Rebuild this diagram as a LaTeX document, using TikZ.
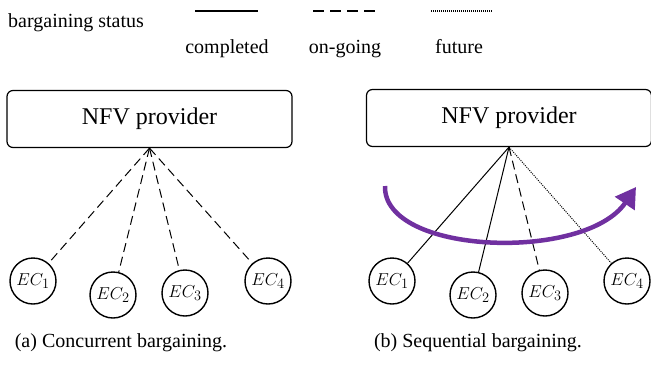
\documentclass[tikz,border=0pt]{standalone}
\usepackage{fontspec}
\setmainfont{Liberation Serif}
\usetikzlibrary{arrows.meta}
\definecolor{arcpurple}{HTML}{7030A0}
\tikzset{
  provbox/.style={draw, line width=1.2pt, rounded corners=6pt, minimum width=285pt, minimum height=57pt, inner sep=0pt, font=\fontsize{24}{26}\selectfont},
  ecnode/.style={draw, circle, line width=1.4pt, minimum size=46pt, inner sep=0pt, font=\fontsize{19}{21}\selectfont},
  lbl/.style={font=\fontsize{20}{22}\selectfont, inner sep=0pt},
  conn/.style={line width=1pt},
  ongoing/.style={conn, dash pattern=on 9pt off 5pt},
  fut/.style={conn, dash pattern=on 1pt off 1.2pt},
}
\begin{document}
\begin{tikzpicture}[x=1pt,y=-1pt]
\useasboundingbox (0,0) rectangle (651,376);
% legend
\node[lbl, anchor=west] (lgtitle) at (8,23) {bargaining status};
\coordinate (s1) at (195,11); \coordinate (s2) at (258,11);
\coordinate (d1) at (313,11); \coordinate (d2) at (375,11);
\coordinate (f1) at (431,11); \coordinate (f2) at (493,11);
\draw[line width=1.3pt] (s1) -- (s2);
\draw[line width=1.3pt, dash pattern=on 11pt off 6pt] (d1) -- (d2);
\draw[line width=1.2pt, dash pattern=on 1pt off 1pt] (f1) -- (f2);
\node[lbl, anchor=base] (lgc) at (227,53) {completed};
\node[lbl, anchor=base] (lgo) at (345,53) {on-going};
\node[lbl, anchor=base] (lgf) at (459,53) {future};
% left panel
\node[provbox] (nfvA) at (149.5,119) {NFV provider};
\node[ecnode] (a1) at (33,281) {$EC_1$};
\node[ecnode] (a2) at (113,295) {$EC_2$};
\node[ecnode] (a3) at (185,293) {$EC_3$};
\node[ecnode] (a4) at (268,281) {$EC_4$};
\foreach \i in {1,2,3,4} \draw[ongoing] (nfvA.south) -- (a\i);
\node[lbl] (capA) at (121,343) {(a) Concurrent bargaining.};
% right panel
\node[provbox] (nfvB) at (509,118) {NFV provider};
\node[ecnode] (b1) at (392,281) {$EC_1$};
\node[ecnode] (b2) at (473,295) {$EC_2$};
\node[ecnode] (b3) at (545,293) {$EC_3$};
\node[ecnode] (b4) at (627,281) {$EC_4$};
\draw[conn] (nfvB.south) -- (b1);
\draw[conn] (nfvB.south) -- (b2);
\draw[ongoing] (nfvB.south) -- (b3);
\draw[fut] (nfvB.south) -- (b4);
\coordinate (arcS) at (385,186);
\coordinate (arcE) at (636,187);
\draw[arcpurple, line width=4.5pt, -{Triangle[length=20pt,width=23pt]}]
  (arcS) .. controls (383,255) and (585,262) .. (arcE);
\node[lbl] (capB) at (478,343) {(b) Sequential bargaining.};
\end{tikzpicture}
\end{document}
